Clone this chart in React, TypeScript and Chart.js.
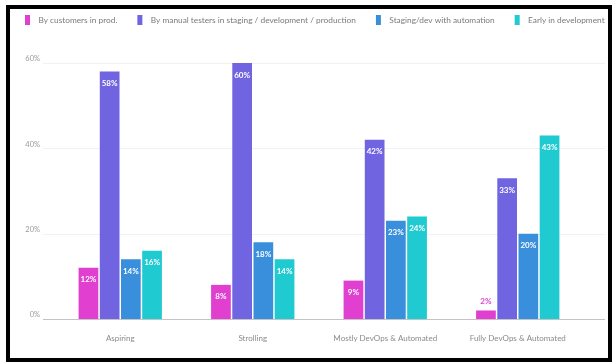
import React, { useEffect, useRef } from "react";
import { Chart, registerables } from "chart.js";

Chart.register(...registerables);

const categories = ["Aspiring", "Strolling", "Mostly DevOps & Automated", "Fully DevOps & Automated"];
const seriesNames = [
  "By customers in prod.",
  "By manual testers in staging / development / production",
  "Staging/dev with automation",
  "Early in development",
];
const customersInProd = [12, 8, 9, 2];
const manualTesters = [58, 60, 42, 33];
const stagingAutomation = [14, 18, 23, 20];
const earlyInDevelopment = [16, 14, 24, 43];
const seriesColors = ["#e03fcf", "#7164e0", "#3a8fdc", "#1fcad0"];
const yTicks = [0, 20, 40, 60];

const FONT = "Lato, 'Open Sans', sans-serif";

const gridPlugin = {
  id: "extGrid",
  beforeDatasetsDraw(chart: any) {
    const { ctx, chartArea } = chart;
    const y = chart.scales.y;
    ctx.save();
    y.ticks.forEach((t: any) => {
      const py = Math.round(y.getPixelForValue(t.value)) + 0.5;
      ctx.strokeStyle = t.value === 0 ? "#c4c4c4" : "#f1f1f1";
      ctx.lineWidth = 1;
      ctx.beginPath();
      ctx.moveTo(chartArea.left - 11, py);
      ctx.lineTo(chartArea.right + 21, py);
      ctx.stroke();
    });
    ctx.restore();
  },
};

const labelPlugin = {
  id: "barLabels",
  afterDatasetsDraw(chart: any) {
    const { ctx } = chart;
    ctx.save();
    ctx.font = `bold 8px ${FONT}`;
    ctx.textAlign = "center";
    ctx.textBaseline = "middle";
    chart.data.datasets.forEach((ds: any, i: number) => {
      const meta = chart.getDatasetMeta(i);
      meta.data.forEach((bar: any, j: number) => {
        const v = ds.data[j];
        const h = bar.base - bar.y;
        const txt = `${v}%`;
        if (h > 16) {
          ctx.fillStyle = "#ffffff";
          ctx.fillText(txt, bar.x, bar.y + 12);
        } else {
          ctx.fillStyle = ds.backgroundColor;
          ctx.fillText(txt, bar.x, bar.y - 9);
        }
      });
    });
    ctx.restore();
  },
};

const legendHeightPlugin = {
  id: "legendHeight",
  afterInit(chart: any) {
    const lg = chart.legend;
    if (!lg) return;
    const orig = lg.fit.bind(lg);
    lg.fit = function () {
      this.maxWidth = chart.width + 60;
      orig();
      this.height = 68;
    };
    const origDraw = lg.draw.bind(lg);
    lg.draw = function () {
      const r = this.right;
      this.right = chart.width + 60;
      origDraw();
      this.right = r;
    };
  },
};

export default function App() {
  const ref = useRef<HTMLCanvasElement>(null);
  useEffect(() => {
    if (!ref.current) return;
    const values = [customersInProd, manualTesters, stagingAutomation, earlyInDevelopment];
    const chart = new Chart(ref.current, {
      type: "bar",
      data: {
        labels: categories,
        datasets: seriesNames.map((name, i) => ({
          label: name,
          data: values[i],
          backgroundColor: seriesColors[i],
          borderWidth: 0,
          categoryPercentage: 0.64,
          barPercentage: 0.93,
        })),
      },
      options: {
        responsive: false,
        animation: false,
        devicePixelRatio: 1,
        layout: { padding: { top: -5, right: 28, bottom: 0, left: 5 } },
        plugins: {
          tooltip: { enabled: false },
          legend: {
            position: "top",
            align: "start",
            labels: {
              boxWidth: 5,
              boxHeight: 10,
              padding: 20,
              color: "#7a7a7a",
              font: { family: FONT, size: 8.3 },
              generateLabels: (c: any) =>
                c.data.datasets.map((ds: any, i: number) => ({
                  text: "  " + ds.label,
                  fillStyle: ds.backgroundColor,
                  strokeStyle: ds.backgroundColor,
                  lineWidth: 0,
                  datasetIndex: i,
                  hidden: false,
                  fontColor: "#7a7a7a",
                })),
            },
          },
        },
        scales: {
          x: {
            grid: { display: false, drawTicks: false, tickLength: 0 },
            border: { display: false },
            ticks: { color: "#8a8a8a", font: { family: FONT, size: 8 }, padding: 15, maxRotation: 0 },
            afterFit: (s: any) => {
              s.height = 43;
            },
          },
          y: {
            min: 0,
            max: 60,
            afterBuildTicks: (s: any) => {
              s.ticks = yTicks.map((v) => ({ value: v }));
            },
            grid: { display: false, drawTicks: false, tickLength: 0 },
            border: { display: false },
            ticks: {
              color: "#9a9a9a",
              font: { family: FONT, size: 7.5 },
              padding: 14,
              labelOffset: -4,
              callback: (v: any) => `${v}%`,
            },
            afterFit: (s: any) => {
              s.width = 49;
            },
          },
        },
      },
      plugins: [gridPlugin, labelPlugin, legendHeightPlugin],
    });
    return () => chart.destroy();
  }, []);

  return (
    <div style={{ position: "fixed", left: 0, top: 0, width: 612, height: 362, background: "#fff" }}>
      <canvas ref={ref} width={612} height={362} style={{ position: "absolute", left: 0, top: 0 }} />
      <div
        style={{
          position: "absolute",
          left: 6,
          top: 5,
          width: 606,
          height: 357,
          boxSizing: "border-box",
          border: "4px solid #000",
          pointerEvents: "none",
        }}
      />
    </div>
  );
}
